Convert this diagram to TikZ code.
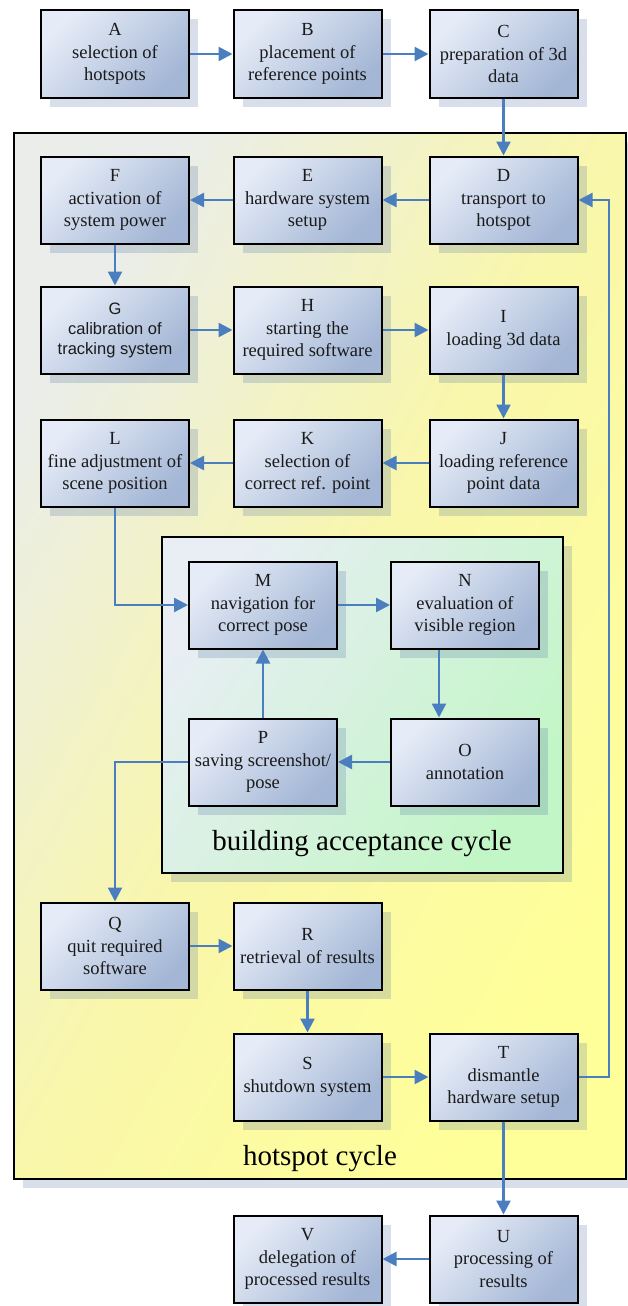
\documentclass[tikz,border=0pt]{standalone}
\usepackage{fontspec}
\setmainfont{Liberation Serif}
\newfontfamily\gsans{Liberation Sans}
\usetikzlibrary{arrows.meta,shadows,calc}
\definecolor{boxlight}{HTML}{E6ECF7}
\definecolor{boxdark}{HTML}{A3B6D5}
\definecolor{arrowblue}{HTML}{4A7EBF}
\definecolor{shadowc}{HTML}{3A5F9A}
\definecolor{hsLight}{HTML}{EAEDEA}
\definecolor{hsMid}{HTML}{F9F7AA}
\definecolor{hsYellow}{HTML}{FFFF99}
\definecolor{bcLight}{HTML}{E8EEF4}
\definecolor{bcGreen}{HTML}{C2F6C6}
\definecolor{txt}{HTML}{1A1A1A}
\begin{document}
\begin{tikzpicture}[x=1pt,y=-1pt,
  stepbox/.style={rectangle, draw=black, line width=2pt,
    minimum width=148pt, minimum height=87pt, inner sep=0pt,
    align=center, text=txt, font=\fontsize{18.5}{22.5}\selectfont,
    top color=boxlight, bottom color=boxdark, shading angle=45,
    drop shadow={shadow xshift=9pt, shadow yshift=-9pt, fill=shadowc, opacity=0.2}},
  flow/.style={draw=arrowblue, line width=2.5pt, -{Triangle[length=14pt,width=14pt]}},
  framebox/.style={draw=black, line width=2pt,
    drop shadow={shadow xshift=9pt, shadow yshift=-9pt, fill=shadowc, opacity=0.2}},
  cyclelabel/.style={anchor=base, text=black, font=\fontsize{29}{34}\selectfont}
]
\useasboundingbox (0,0) rectangle (628,1306);

% hotspot cycle frame
\path[framebox, left color=hsLight, right color=hsYellow, middle color=hsMid, shading angle=60]
  (14,133) rectangle (626,1179);
% building acceptance cycle frame
\path[framebox, left color=bcLight, right color=bcGreen, shading angle=55]
  (162,537) rectangle (563,873);

\node[cyclelabel] (bclabel) at (362,850) {building acceptance cycle};
\node[cyclelabel] (hslabel) at (320,1165) {hotspot cycle};

% boxes
\node[stepbox] (A) at (115,54)    {A\\selection of\\hotspots};
\node[stepbox] (B) at (307.5,54)  {B\\placement of\\reference points};
\node[stepbox] (C) at (503.5,54)  {C\\preparation of 3d\\data};
\node[stepbox] (D) at (503.5,200) {D\\transport to\\hotspot};
\node[stepbox] (E) at (307.5,200) {E\\hardware system\\setup};
\node[stepbox] (F) at (115,200)   {F\\activation of\\system power};
\node[stepbox, font=\gsans\fontsize{16.5}{20}\selectfont] (G) at (115,330) {G\\calibration of\\tracking system};
\node[stepbox] (H) at (307.5,330) {H\\starting the\\required software};
\node[stepbox] (I) at (503.5,330) {I\\loading 3d data};
\node[stepbox] (J) at (503.5,463) {J\\loading reference\\point data};
\node[stepbox] (K) at (307.5,463) {K\\selection of\\correct ref. point};
\node[stepbox] (L) at (115,463)   {L\\fine adjustment of\\scene position};
\node[stepbox] (M) at (263,605)   {M\\navigation for\\correct pose};
\node[stepbox] (N) at (465,605)   {N\\evaluation of\\visible region};
\node[stepbox] (O) at (465,762)   {O\\annotation};
\node[stepbox] (P) at (263,762)   {P\\saving screenshot/\\pose};
\node[stepbox] (Q) at (115,946)   {Q\\quit required\\software};
\node[stepbox] (R) at (307.5,946) {R\\retrieval of results};
\node[stepbox] (S) at (307.5,1077){S\\shutdown system};
\node[stepbox] (T) at (503.5,1077){T\\dismantle\\hardware setup};
\node[stepbox] (U) at (503.5,1259){U\\processing of\\results};
\node[stepbox] (V) at (307.5,1259){V\\delegation of\\processed results};

\coordinate (fb) at (609,1077);

% connectors
\draw[flow] (A) -- (B);
\draw[flow] (B) -- (C);
\draw[flow] (C) -- (D);
\draw[flow] (D) -- (E);
\draw[flow] (E) -- (F);
\draw[flow] (F) -- (G);
\draw[flow] (G) -- (H);
\draw[flow] (H) -- (I);
\draw[flow] (I) -- (J);
\draw[flow] (J) -- (K);
\draw[flow] (K) -- (L);
\draw[flow] (L.south) |- (M.west);
\draw[flow] (M) -- (N);
\draw[flow] ([xshift=-26pt]N.south) -- ([xshift=-26pt]O.north);
\draw[flow] (O) -- (P);
\draw[flow] (P) -- (M);
\draw[flow] (P.west) -| (Q.north);
\draw[flow] (Q) -- (R);
\draw[flow] (R) -- (S);
\draw[flow] (S) -- (T);
\draw[flow] (T.east) -- (T.east -| fb) |- (D.east);
\draw[flow] (T) -- (U);
\draw[flow] (U) -- (V);
\end{tikzpicture}
\end{document}
